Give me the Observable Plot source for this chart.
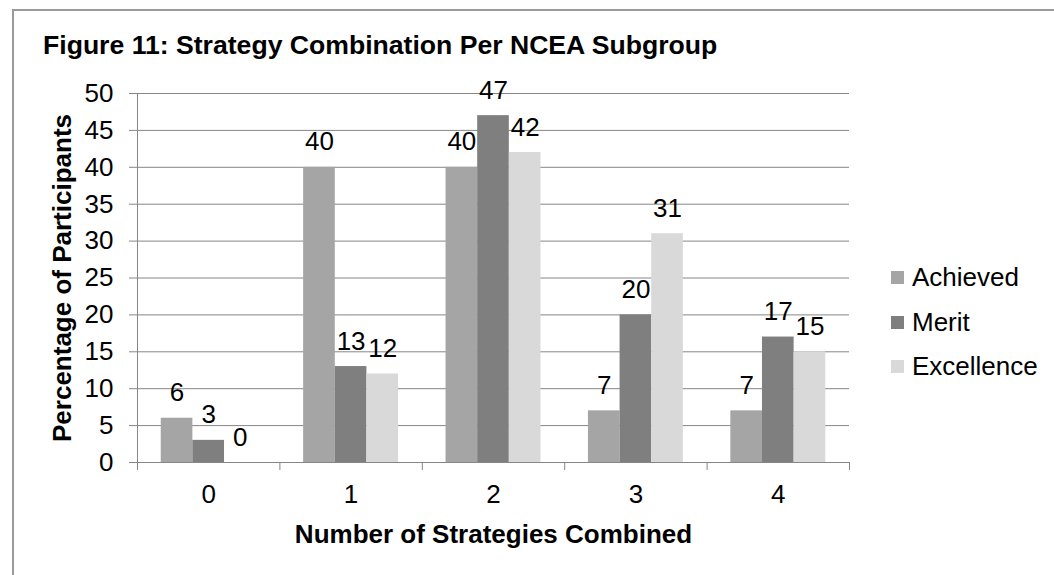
<!DOCTYPE html>
<html>
<head>
<meta charset="utf-8">
<script src="https://cdn.jsdelivr.net/npm/d3@7"></script>
<script src="https://cdn.jsdelivr.net/npm/@observablehq/plot@0.6"></script>
<style>
  html, body { margin: 0; padding: 0; background: #fff; overflow: hidden; }
  #wrap { position: relative; width: 1054px; height: 575px; overflow: hidden; font-family: "Liberation Sans", Arial, sans-serif; color: #000; }
  #frame { position: absolute; left: 12px; top: 9px; width: 1200px; height: 800px; border-left: 2px solid #9a9a9a; border-top: 2px solid #9a9a9a; }
  #title { position: absolute; left: 43px; top: 32px; font-size: 26.6px; line-height: 27px; font-weight: bold; white-space: nowrap; }
  #chart { position: absolute; left: 0; top: 0; }
  #legend { position: absolute; left: 891px; top: 0; }
  .row { position: absolute; left: 0; height: 44px; display: flex; align-items: center; white-space: nowrap; font-size: 26px; }
  .sw { width: 13px; height: 13px; margin-right: 8px; }
</style>
</head>
<body>
<div id="wrap">
  <div id="frame"></div>
  <div id="chart"></div>
  <div id="title"></div>
  <div id="legend"></div>
</div>
<script>
const titleText = "Figure 11: Strategy Combination Per NCEA Subgroup";
const xTitle = "Number of Strategies Combined";
const yTitle = "Percentage of Participants";
const categories = ["0", "1", "2", "3", "4"];
const series = ["Achieved", "Merit", "Excellence"];
const achieved = [6, 40, 40, 7, 7];
const merit = [3, 13, 47, 20, 17];
const excellence = [0, 12, 42, 31, 15];
const yTicks = [0, 5, 10, 15, 20, 25, 30, 35, 40, 45, 50];
const seriesColors = ["#a5a5a5", "#7f7f7f", "#d9d9d9"];

const values = [achieved, merit, excellence];
const rows = [];
categories.forEach((c, i) => {
  series.forEach((s, j) => {
    rows.push({cat: i, label: c, series: s, s: j, value: values[j][i]});
  });
});
const groupWidth = 2 / 3;
const barW = groupWidth / series.length;
const left = d => d.cat - groupWidth / 2 + d.s * barW;
const boundaries = [-0.5, ...categories.map((c, i) => i + 0.5)];
const gridColor = "#868686";

const plot = Plot.plot({
  width: 1054,
  height: 575,
  marginLeft: 137,
  marginRight: 205,
  marginTop: 93,
  marginBottom: 113,
  style: {fontFamily: "'Liberation Sans', Arial, sans-serif", fontSize: "26px", color: "#000", background: "transparent"},
  x: {type: "linear", domain: [-0.5, categories.length - 0.5], axis: null},
  y: {domain: [0, 50], axis: null},
  color: {domain: series, range: seriesColors},
  marks: [
    Plot.gridY(yTicks, {stroke: gridColor, strokeOpacity: 1}),
    Plot.rectY(rows, {x1: left, x2: d => left(d) + barW, y1: 0, y2: "value", fill: "series"}),
    Plot.ruleY([0], {stroke: gridColor}),
    Plot.ruleX([-0.5], {stroke: gridColor}),
    Plot.axisY({ticks: yTicks, tickSize: 8, tickPadding: 16, stroke: gridColor, fill: "#000", fontSize: 26, label: null}),
    Plot.axisX({ticks: boundaries, tickSize: 8, tickFormat: () => "", stroke: gridColor, label: null}),
    Plot.axisX({ticks: categories.map((c, i) => i), tickSize: 0, tickPadding: 22, tickFormat: d => categories[d], fill: "#000", fontSize: 26, label: null}),
    Plot.text(rows, {x: d => left(d) + barW / 2, y: "value", text: d => String(d.value), lineAnchor: "bottom", dy: -17, fontSize: 26, fill: "#000"}),
    Plot.text([xTitle], {frameAnchor: "bottom", lineAnchor: "bottom", dy: 80, fontSize: 26, fontWeight: "bold", fill: "#000"}),
    Plot.text([yTitle], {frameAnchor: "left", textAnchor: "middle", rotate: -90, lineAnchor: "bottom", dx: -67, fontSize: 26, fontWeight: "bold", fill: "#000"})
  ]
});
document.getElementById("chart").appendChild(plot);
document.getElementById("title").textContent = titleText;

const legendCenters = [277, 322, 366];
const legend = document.getElementById("legend");
series.forEach((s, j) => {
  const row = document.createElement("div");
  row.className = "row";
  row.style.top = (legendCenters[j] - 22) + "px";
  const sw = document.createElement("div");
  sw.className = "sw";
  sw.style.background = seriesColors[j];
  const t = document.createElement("span");
  t.textContent = s;
  row.appendChild(sw);
  row.appendChild(t);
  legend.appendChild(row);
});
</script>
</body>
</html>
